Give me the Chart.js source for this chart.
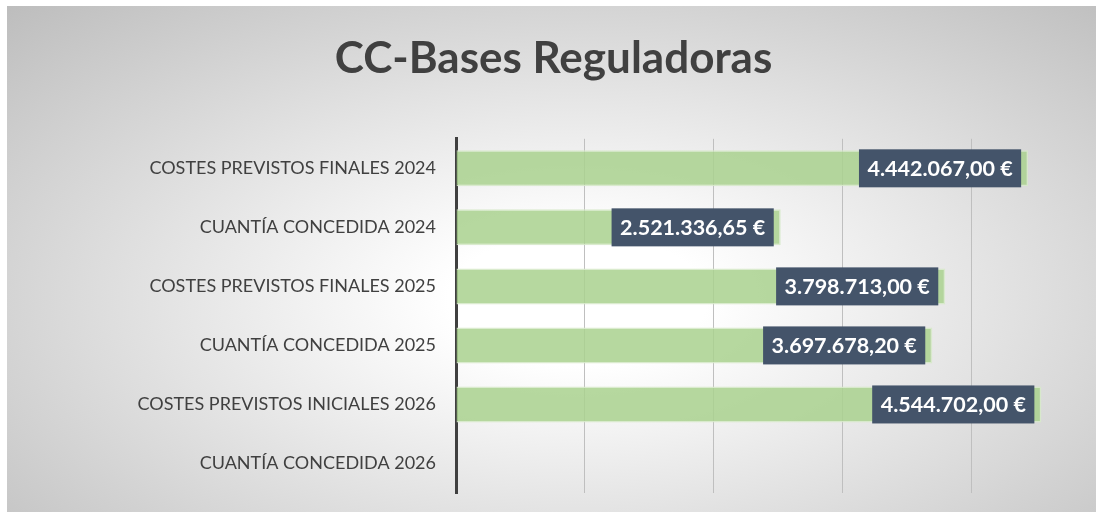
<!DOCTYPE html>
<html lang="es">
<head>
<meta charset="utf-8">
<title>CC-Bases Reguladoras</title>
<script src="https://cdn.jsdelivr.net/npm/chart.js@4.4.1/dist/chart.umd.min.js"></script>
<style>
  html, body { margin: 0; padding: 0; background: #fff; overflow: hidden; }
  #panel {
    position: absolute; left: 7px; top: 6px; width: 1097px; height: 506px;
    background: radial-gradient(ellipse farthest-corner at 52% 58%, #ffffff 0%, #ffffff 16%, #bdbdbd 100%);
  }
</style>
</head>
<body>
<div id="panel"><canvas id="chart" width="1097" height="506"></canvas></div>
<script>
const categories = [
  'COSTES PREVISTOS FINALES 2024',
  'CUANTÍA CONCEDIDA 2024',
  'COSTES PREVISTOS FINALES 2025',
  'CUANTÍA CONCEDIDA 2025',
  'COSTES PREVISTOS INICIALES 2026',
  'CUANTÍA CONCEDIDA 2026'
];
const amounts = [4442067.00, 2521336.65, 3798713.00, 3697678.20, 4544702.00, null];
const axisMax = 5000000;
const axisStep = 1000000;

const FONT = 'Lato';

function formatEuro(v) {
  const parts = v.toFixed(2).split('.');
  return parts[0].replace(/\B(?=(\d{3})+(?!\d))/g, '.') + ',' + parts[1] + ' €';
}

// dark box with the amount, sitting at the inner end of each bar
const valueBoxes = {
  id: 'valueBoxes',
  afterDatasetsDraw(chart) {
    const ctx = chart.ctx;
    const meta = chart.getDatasetMeta(0);
    ctx.save();
    ctx.font = 'bold 21.5px ' + FONT;
    ctx.textBaseline = 'middle';
    ctx.textAlign = 'center';
    meta.data.forEach((bar, i) => {
      const v = amounts[i];
      if (v == null) return;
      const text = formatEuro(v);
      const w = ctx.measureText(text).width + 17;
      const h = bar.height + 2;
      const right = bar.x - 7;
      ctx.fillStyle = '#44546a';
      ctx.fillRect(right - w, bar.y - h / 2, w, h);
      ctx.fillStyle = '#ffffff';
      ctx.fillText(text, right - w / 2, bar.y + 1);
    });
    ctx.restore();
  }
};

new Chart(document.getElementById('chart'), {
  type: 'bar',
  data: {
    labels: categories,
    datasets: [{
      data: amounts,
      backgroundColor: 'rgba(169, 209, 142, 0.85)',
      borderColor: 'rgba(214, 233, 201, 0.9)',
      borderWidth: 1.5,
      categoryPercentage: 1,
      barPercentage: 0.61
    }]
  },
  options: {
    indexAxis: 'y',
    responsive: false,
    animation: false,
    layout: { padding: { left: 0, right: 4, top: 0, bottom: 19 } },
    plugins: {
      legend: { display: false },
      tooltip: { enabled: false },
      title: {
        display: true,
        text: 'CC-Bases Reguladoras',
        color: '#404040',
        font: { family: FONT, size: 44, weight: 'bold', lineHeight: 1.2 },
        padding: { top: 26, bottom: 54 }
      }
    },
    scales: {
      x: {
        min: 0,
        max: axisMax,
        ticks: { display: false, stepSize: axisStep },
        grid: { color: '#bfbfbf', drawTicks: false },
        border: { display: false },
        afterFit(scale) { scale.height = 0; }
      },
      y: {
        // tick marks stay hidden (grid off); tickLength only spaces the labels from the axis
        grid: { display: false, drawTicks: true, tickLength: 18 },
        border: { display: true, color: '#404040', width: 3 },
        ticks: { color: '#404040', font: { family: FONT, size: 18 }, padding: 2 },
        afterFit(scale) { scale.width = 449; }
      }
    }
  },
  plugins: [valueBoxes]
});
</script>
</body>
</html>
